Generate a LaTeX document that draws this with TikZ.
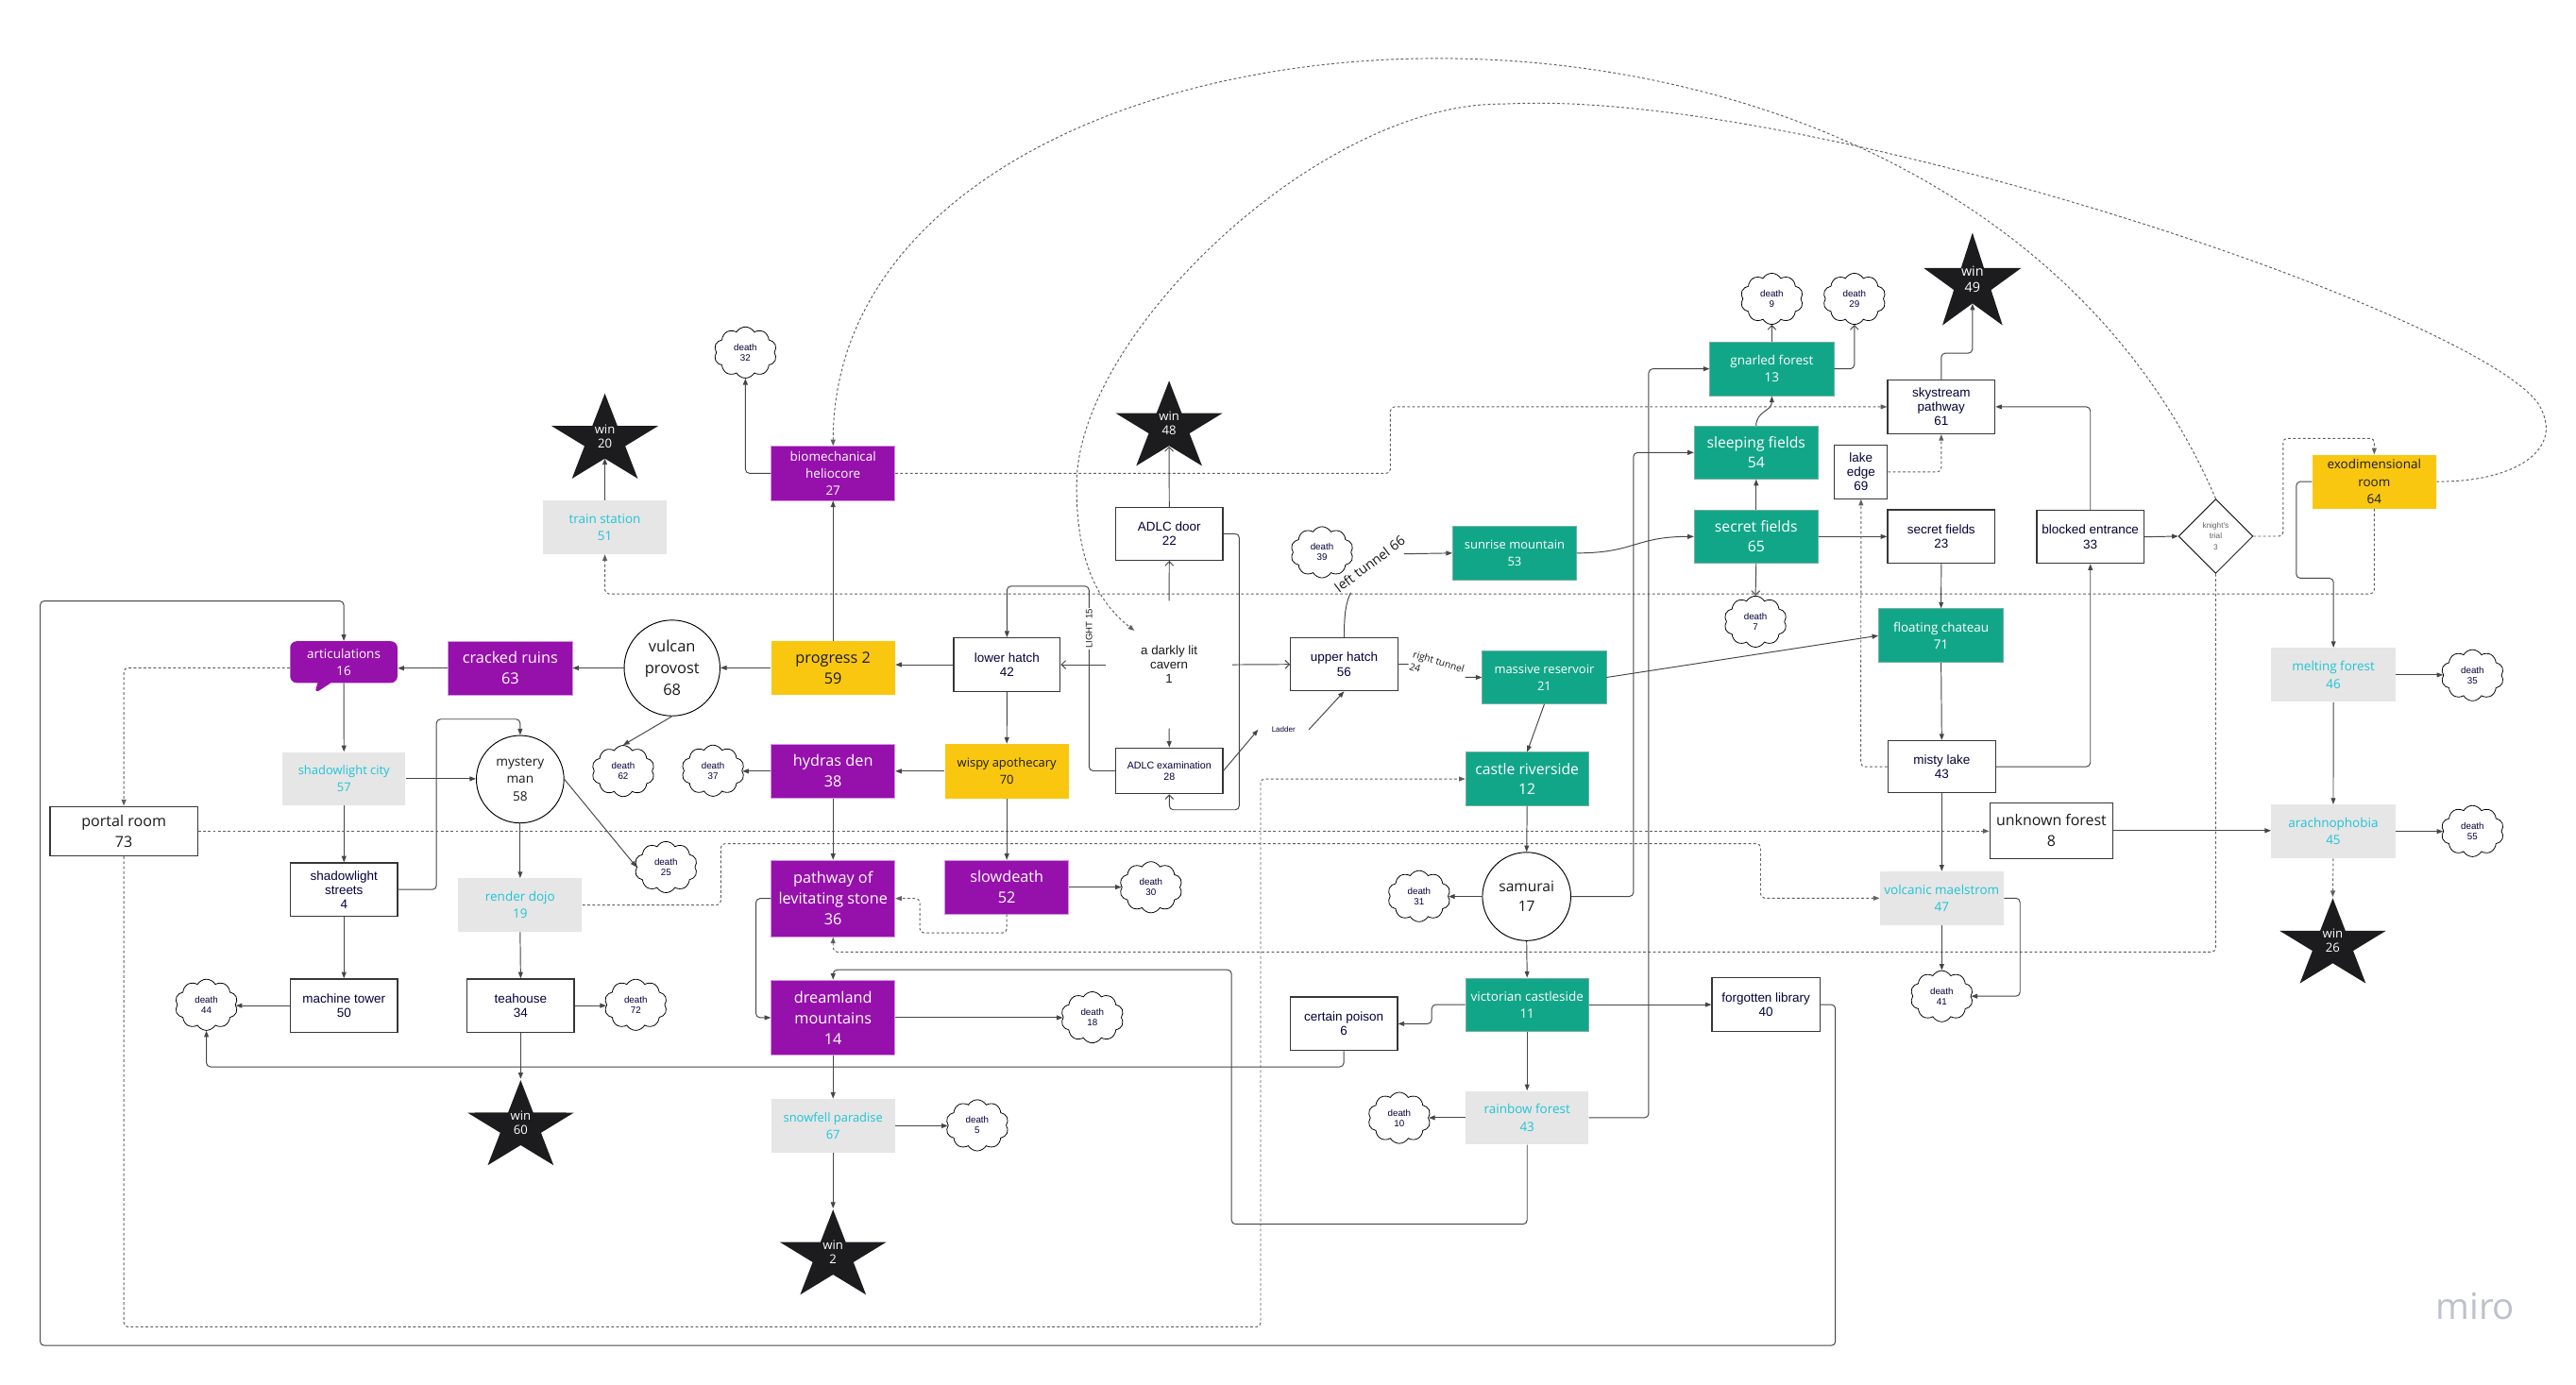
\documentclass[tikz,border=0pt]{standalone}
\usepackage{fontspec}
\setmainfont{Open Sans}
\newfontfamily\osf{Open Sans}
\newfontfamily\arf{Liberation Sans}
\usetikzlibrary{arrows.meta,shapes.geometric,shapes.symbols,shapes.callouts}
\definecolor{mpurple}{RGB}{150,16,172}
\definecolor{mpurpleb}{RGB}{210,150,225}
\definecolor{mgreen}{RGB}{18,166,137}
\definecolor{mgreenb}{RGB}{120,175,160}
\definecolor{myellow}{RGB}{250,199,16}
\definecolor{mgray}{RGB}{230,230,230}
\definecolor{mcyan}{RGB}{30,196,214}
\definecolor{mnavy}{RGB}{5,0,56}
\definecolor{mdark}{RGB}{26,26,26}
\definecolor{mstar}{RGB}{28,28,30}
\definecolor{mline}{RGB}{70,70,70}
\definecolor{mdash}{RGB}{95,95,95}
\definecolor{mborder}{RGB}{55,55,55}
\definecolor{mlogo}{RGB}{190,192,204}
\newcommand{\fntBig}{\osf\fontsize{9.3}{12.6}\selectfont}
\newcommand{\fntMid}{\osf\fontsize{9}{12.2}\selectfont}
\newcommand{\fntSm}{\osf\fontsize{7.7}{10.4}\selectfont}
\newcommand{\fntSmm}{\osf\fontsize{7.4}{10.1}\selectfont}
\newcommand{\fntAr}{\arf\fontsize{7.7}{8.6}\selectfont}
\newcommand{\fntCloud}{\arf\fontsize{5.6}{6.3}\selectfont}
\newcommand{\fntStar}{\osf\fontsize{7.5}{8.6}\selectfont}
\newcommand{\drawstarA}[2]{\fill[mstar, shift={(#1,#2)}, yshift=-2.72pt, xscale=1.19]
  (90:28.5pt) -- (126:10.9pt) -- (162:28.5pt) -- (198:10.9pt) -- (234:28.5pt) -- (270:10.9pt) -- (306:28.5pt) -- (342:10.9pt) -- (18:28.5pt) -- (54:10.9pt) -- cycle;}
\newcommand{\drawstarB}[2]{\fill[mstar, shift={(#1,#2)}, yshift=-2.96pt]
  (90:31pt) -- (126:11.84pt) -- (162:31pt) -- (198:11.84pt) -- (234:31pt) -- (270:11.84pt) -- (306:31pt) -- (342:11.84pt) -- (18:31pt) -- (54:11.84pt) -- cycle;}
\tikzset{
  sz/.style 2 args={minimum width=#1, minimum height=#2},
  base/.style={rectangle, inner sep=0pt, align=center},
  pbox/.style={base, fill=mpurple, draw=mpurpleb, line width=0.4pt, text=white},
  gbox/.style={base, fill=mgreen, draw=mgreenb, line width=0.4pt, text=white},
  ybox/.style={base, fill=myellow, text=mdark},
  graybox/.style={base, fill=mgray, text=mcyan, font=\fntSm},
  wbox/.style={base, fill=white, draw=mborder, line width=0.7pt, text=mnavy, font=\fntAr},
  wboxo/.style={base, fill=white, draw=mborder, line width=0.7pt, text=mdark, font=\osf\fontsize{9.2}{12.5}\selectfont},
  circ/.style={circle, draw=black, line width=0.55pt, fill=white, inner sep=0pt, align=center, text=mdark},
  dcloud/.style={cloud, cloud puffs=10, cloud puff arc=120, aspect=1.25, draw=black, line width=0.45pt, fill=white, minimum width=38pt, minimum height=31pt, inner sep=0pt, align=center, text=mnavy, font=\fntCloud},
  winA/.style={rectangle, inner sep=0pt, minimum width=65.5pt, minimum height=52.6pt, align=center, text=white, font=\fntStar},
  winB/.style={rectangle, inner sep=0pt, minimum width=60pt, minimum height=57.1pt, align=center, text=white, font=\osf\fontsize{8.2}{9.8}\selectfont},
  arr/.style={draw=mline, line width=0.55pt, rounded corners=2.5pt, -{Triangle[length=3.8pt,width=2.8pt]}},
  oarr/.style={draw=mline, line width=0.55pt, rounded corners=2.5pt, -{Straight Barb[length=2.6pt,width=5pt]}},
  darr/.style={arr, draw=mdash, dash pattern=on 1.6pt off 1.4pt},
}
\begin{document}
\begin{tikzpicture}[x=1pt,y=-1pt]
\fill[white] (0,0) rectangle (1560,838.33);
\useasboundingbox (0,0) rectangle (1560,838.33);

% ---------- star shapes (drawn first, texts on top)
\drawstarA{366.3}{264.1}
\drawstarA{708}{256.4}
\drawstarB{1194.5}{169}
\drawstarA{315.3}{680}
\drawstarA{504.5}{758.4}
\drawstarA{1412.7}{569.8}

% ---------- gray boxes
\node[graybox, sz={75pt}{32.5pt}] (ts) at (366.3,319.3) {train station\\51};
\node[graybox, sz={74.6pt}{32.3pt}, font=\fntSmm] (slc) at (208.3,471.7) {shadowlight city\\57};
\node[graybox, sz={75pt}{32.4pt}] (rd) at (315,548.2) {render dojo\\19};
\node[graybox, sz={75pt}{32.6pt}, font=\fntSmm] (sp) at (504.5,681.9) {snowfell paradise\\67};
\node[graybox, sz={74.5pt}{32.4pt}] (rf) at (924.8,677) {rainbow forest\\43};
\node[graybox, sz={75pt}{32.3pt}] (vm) at (1175.9,544) {volcanic maelstrom\\47};
\node[graybox, sz={75.3pt}{32.7pt}] (mf) at (1413.1,408.8) {melting forest\\46};
\node[graybox, sz={75pt}{32.5pt}] (ar) at (1413,503.6) {arachnophobia\\45};

% ---------- purple
\node[rectangle callout, callout absolute pointer={(190.2,420.3)}, callout pointer width=8pt, rounded corners=4pt, fill=mpurple, text=white, minimum width=65pt, minimum height=25.2pt, inner sep=0pt, align=center, font=\fntSm] (art) at (208.2,401) {articulations\\16};
\node[pbox, sz={75pt}{32.6pt}, font=\fntBig] (cr) at (309,404.7) {cracked ruins\\63};
\node[pbox, sz={75pt}{32.8pt}, font=\fntSm] (bh) at (504.5,286.7) {biomechanical\\heliocore\\27};
\node[pbox, sz={75pt}{33pt}, font=\fntBig] (hd) at (504.5,467.1) {hydras den\\38};
\node[pbox, sz={75pt}{46.4pt}, font=\fntBig] (pl) at (504.5,544.2) {pathway of\\levitating stone\\36};
\node[pbox, sz={75pt}{32.5pt}, font=\fntBig] (sd) at (609.7,537.3) {slowdeath\\52};
\node[pbox, sz={75pt}{45.6pt}, font=\fntBig] (dm) at (504.5,616.4) {dreamland\\mountains\\14};

% ---------- yellow
\node[ybox, sz={75pt}{32.4pt}, font=\fntBig] (pr) at (504.5,404.5) {progress 2\\59};
\node[ybox, sz={75pt}{33pt}, font=\fntSmm] (wa) at (609.7,467.1) {wispy apothecary\\70};
\node[ybox, sz={75pt}{32.5pt}, font=\fntSm] (exo) at (1437.8,291.7) {exodimensional\\room\\64};

% ---------- green
\node[gbox, sz={75pt}{32.4pt}, font=\fntSmm] (sm) at (917.2,335) {sunrise mountain\\53};
\node[gbox, sz={75pt}{32.2pt}, font=\fntSmm] (mr) at (935.2,410.3) {massive reservoir\\21};
\node[gbox, sz={74.5pt}{32.4pt}, font=\fntMid] (crv) at (924.8,471.8) {castle riverside\\12};
\node[gbox, sz={74.5pt}{32.3pt}, font=\fntSm] (vc) at (924.8,608.5) {victorian castleside\\11};
\node[gbox, sz={75pt}{32.6pt}, font=\fntSm] (gf) at (1073,223.4) {gnarled forest\\13};
\node[gbox, sz={75pt}{32pt}, font=\fntMid] (sf54) at (1063.5,274.1) {sleeping fields\\54};
\node[gbox, sz={75pt}{32.4pt}, font=\fntMid] (sf65) at (1063.5,325) {secret fields\\65};
\node[gbox, sz={75.6pt}{32.6pt}, font=\fntSm] (fc) at (1175.5,385) {floating chateau\\71};

% ---------- white boxes
\node[wbox, sz={64.5pt}{32.4pt}] (lh) at (609.8,402.6) {lower hatch\\42};
\node[wbox, sz={64.8pt}{32pt}] (door) at (708.1,323.3) {ADLC door\\22};
\node[wbox, sz={64.8pt}{27.7pt}, font=\arf\fontsize{6.1}{7}\selectfont] (exam) at (708.1,466.9) {ADLC examination\\28};
\node[wbox, sz={64.8pt}{32pt}] (uh) at (814,402.4) {upper hatch\\56};
\node[wbox, sz={64.8pt}{32.3pt}] (ss) at (208.3,538.8) {shadowlight\\streets\\4};
\node[wbox, sz={64.8pt}{32.3pt}] (mt) at (208.3,609.1) {machine tower\\50};
\node[wbox, sz={64.8pt}{32.3pt}] (th) at (315.3,609.1) {teahouse\\34};
\node[wbox, sz={65pt}{32.4pt}] (cp) at (813.8,620.1) {certain poison\\6};
\node[wbox, sz={65.2pt}{32.3pt}] (fl) at (1069.4,608.5) {forgotten library\\40};
\node[wbox, sz={65pt}{32.6pt}] (sky) at (1175.6,246.4) {skystream\\pathway\\61};
\node[wbox, sz={32pt}{32.3pt}] (le) at (1127,285.9) {lake\\edge\\69};
\node[wbox, sz={65pt}{32.4pt}] (sf23) at (1175.6,325) {secret fields\\23};
\node[wbox, sz={65pt}{32pt}] (be) at (1265.9,325.2) {blocked entrance\\33};
\node[wbox, sz={65.2pt}{31.5pt}] (ml) at (1175.9,464.4) {misty lake\\43};
\node[wboxo, sz={89.3pt}{29.9pt}] (portal) at (75,503.4) {portal room\\73};
\node[wboxo, sz={74.6pt}{33.9pt}, font=\osf\fontsize{9.1}{12.4}\selectfont] (uf) at (1242.3,503.1) {unknown forest\\8};

% ---------- circles, text, diamond
\node[circ, minimum size=58pt, font=\osf\fontsize{9.4}{13}\selectfont] (vp) at (407,404.6) {vulcan\\provost\\68};
\node[circ, minimum size=53pt, font=\osf\fontsize{7.8}{10.5}\selectfont] (mm) at (315,472) {mystery\\man\\58};
\node[circ, minimum size=53.5pt, font=\osf\fontsize{8.9}{12.2}\selectfont] (sam) at (924.5,543) {samurai\\17};
\node[rectangle, inner sep=0pt, minimum width=76pt, minimum height=77pt, align=center, text=mdark, font=\arf\fontsize{7.6}{8.5}\selectfont] (cav) at (708,402.6) {a darkly lit\\cavern\\1};
\node[diamond, draw=black, line width=0.5pt, fill=white, minimum width=45pt, minimum height=45pt, inner sep=0pt, align=center, text=mdash, font=\arf\fontsize{4.7}{6.5}\selectfont] (kt) at (1341.8,324.8) {knight's\\trial\\3};

% ---------- star texts
\node[winA] (w20) at (366.3,264.1) {win\\20};
\node[winA] (w48) at (708,256.4) {win\\48};
\node[winB] (w49) at (1194.5,169) {win\\49};
\node[winA] (w60) at (315.3,680) {win\\60};
\node[winA] (w2) at (504.5,758.4) {win\\2};
\node[winA] (w26) at (1412.7,569.8) {win\\26};

% ---------- clouds
\node[dcloud] (d32) at (451.4,213.5) {death\\32};
\node[dcloud] (d62) at (377.4,467) {death\\62};
\node[dcloud] (d37) at (431.8,466.8) {death\\37};
\node[dcloud] (d25) at (403.3,525.2) {death\\25};
\node[dcloud] (d44) at (125,608.6) {death\\44};
\node[dcloud] (d72) at (385,608.6) {death\\72};
\node[dcloud] (d30) at (697,537.4) {death\\30};
\node[dcloud] (d18) at (661.5,616.2) {death\\18};
\node[dcloud] (d5) at (591.8,681.6) {death\\5};
\node[dcloud] (d39) at (800.6,334.5) {death\\39};
\node[dcloud] (d31) at (859.4,542.8) {death\\31};
\node[dcloud] (d10) at (847.4,677.1) {death\\10};
\node[dcloud] (d9) at (1073,181) {death\\9};
\node[dcloud] (d29) at (1123,181) {death\\29};
\node[dcloud] (d7) at (1063.1,376.5) {death\\7};
\node[dcloud] (d41) at (1175.9,603.4) {death\\41};
\node[dcloud] (d35) at (1497.3,409) {death\\35};
\node[dcloud] (d55) at (1497.3,503.4) {death\\55};

\node[font=\osf\fontsize{22}{24}\selectfont, text=mlogo] (logo) at (1499,791) {miro};

% ---------- connectors
\draw[arr] (ts.north) -- ([yshift=-13.5pt]w20.center);
\draw[darr] (exo.south) -- (1437.8,359.7) -- (366.3,359.7) -- (ts.south);
\draw[arr] (cr.west) -- (cr.west -| art.east);
\draw[arr] (vp.west) -- (vp.west -| cr.east);
\draw[arr] (pr.west) -- (pr.west -| vp.east);
\draw[arr] (lh.west) -- (lh.west -| pr.east);
\draw[arr] (pr.north) -- (bh.south);
\draw[arr] (bh.west) -- (451.4,286.7) -- (d32.south);
\draw[darr] (kt.north) .. controls (1180,-75) and (505,-20) .. (bh.north);
\draw[arr] (art.south) -- (slc.north);
\draw[arr] (fl.east) -- (1111.5,608.5) -- (1111.5,815) -- (24.3,815) -- (24.3,364) -- (208.2,364) -- (art.north);
\draw[darr] ([yshift=-3.5pt]art.west) -- (75,404.5) -- (portal.north);
\draw[darr] (portal.east) -- (portal.east -| uf.west);
\draw[darr] (portal.south) -- (75,803.7) -- (763.4,803.7) -- (763.4,471.8) -- (crv.west);
\draw[arr] (slc.east) -- (slc.east -| mm.west);
\draw[arr] (slc.south) -- (ss.north);
\draw[arr] (ss.east) -- (264.3,538.8) -- (264.3,435.6) -- (315,435.6) -- (mm.north);
\draw[arr] (ss.south) -- (mt.north);
\draw[arr] (mt.west) -- (mt.west -| d44.east);
\draw[arr] (mm.south) -- (rd.north);
\draw[arr] (mm.east) -- (d25.west);
\draw[arr] (vp.south) -- (d62.north);
\draw[arr] (rd.south) -- (th.north);
\draw[arr] (th.east) -- (th.east -| d72.west);
\draw[arr] (th.south) -- (w60.north);
\draw[arr] (cp.south) -- (813.8,646.2) -- (125,646.2) -- (d44.south);
\draw[arr] (hd.west) -- (hd.west -| d37.east);
\draw[arr] (wa.west) -- (hd.east);
\draw[arr] (lh.south) -- (wa.north);
\draw[arr] (hd.south) -- (pl.north);
\draw[arr] (wa.south) -- (sd.north);
\draw[arr] (sd.east) -- (sd.east -| d30.west);
\draw[darr] (sd.south) -- (609.7,565) -- (557,565) -- (557,544.2) -- (pl.east);
\draw[darr] (kt.south) -- (1341.8,576.6) -- (504.5,576.6) -- (pl.south);
\draw[arr] (pl.west) -- (457.8,544.2) -- (457.8,616.4) -- (dm.west);
\draw[arr] (dm.east) -- (dm.east -| d18.west);
\draw[arr] (dm.south) -- (sp.north);
\draw[arr] (sp.east) -- (sp.east -| d5.west);
\draw[arr] (sp.south) -- (w2.north);
\draw[arr] (rf.south) -- (924.8,741.5) -- (745.8,741.5) -- (745.8,587.4) -- (504.5,587.4) -- (dm.north);
\draw[arr] (rf.east) -- (998.4,677) -- (998.4,223.4) -- (gf.west);
\draw[arr] (rf.west) -- (rf.west -| d10.east);
\draw[arr] (sam.east) -- (989.2,543) -- (989.2,274.1) -- (sf54.west);
\draw[arr] (sam.west) -- (sam.west -| d31.east);
\draw[arr] (crv.south) -- (sam.north);
\draw[arr] (mr.south) -- (crv.north);
\draw[arr] (uh.east) -- (853,402.4) (887.3,410.2) -- (mr.west);
\draw[arr] (uh.north) .. controls (814,372) and (815,365) .. (818,359) (850.2,335.5) -- (sm.west);
\draw[arr] (mr.east) -- (fc.west);
\draw[arr] (sm.east) .. controls (990,335) and (990,325) .. (sf65.west);
\draw[arr] (sf65.north) -- (sf54.south);
\draw[arr] (sf54.north) .. controls (1063.5,249) and (1073,249) .. (gf.south);
\draw[oarr] (gf.north) -- (d9.south);
\draw[oarr] (gf.east) -- (1123,223.4) -- (d29.south);
\draw[oarr] (sf65.south) -- (d7.north);
\draw[arr] (sf65.east) -- (sf23.west);
\draw[arr] (sf23.south) -- (fc.north);
\draw[arr] (fc.south) -- (ml.north);
\draw[arr] (ml.east) -- (1265.9,464.4) -- (be.south);
\draw[darr] (ml.west) -- (1126.9,464.4) -- (le.south);
\draw[darr] (le.east) -- (1175.6,285.9) -- (sky.south);
\draw[arr] (be.north) -- (1265.9,246.4) -- (sky.east);
\draw[arr] (sky.north) -- (1175.6,213.9) -- (1194.5,213.9) -- ([yshift=-15pt]w49.center);
\draw[darr] (bh.east) -- (842,286.7) -- (842,246.4) -- (sky.west);
\draw[arr] (be.east) -- (kt.west);
\draw[darr] (kt.east) -- (1382.6,324.8) -- (1382.6,265.5) -- (1437.8,265.5) -- (exo.north);
\draw[darr] (exo.east) .. controls (1520,292) and (1548,275) .. (1540,250) .. controls (1515,195) and (1100,54) .. (911,63) .. controls (800,63) and (655,200) .. (652,293) .. controls (652,340) and (665,365) .. ([xshift=-21pt,yshift=20.6pt]cav.center);
\draw[arr] (exo.west) -- (1390.6,291.7) -- (1390.6,350.2) -- (1413.1,350.2) -- (mf.north);
\draw[arr] (mf.east) -- (mf.east -| d35.west);
\draw[arr] (mf.south) -- (ar.north);
\draw[arr] (ar.east) -- (ar.east -| d55.west);
\draw[darr] (ar.south) -- (w26.north);
\draw[arr] (uf.east) -- (uf.east -| ar.west);
\draw[arr] (ml.south) -- (vm.north);
\draw[arr] (vm.south) -- (d41.north);
\draw[arr] (vm.east) -- (1223.3,544) -- (1223.3,603.4) -- (d41.east);
\draw[darr] (rd.east) -- (436.5,548.2) -- (436.5,511) -- (1066.2,511) -- (1066.2,544) -- (vm.west);
\draw[arr] (vc.west) -- (867,608.5) -- (867,620.1) -- (cp.east);
\draw[arr] (vc.east) -- (fl.west);
\draw[arr] (vc.south) -- (rf.north);
\draw[arr] (sam.south) -- (vc.north);
\draw[oarr] (cav.west) -- (lh.east);
\draw[oarr] (cav.north) -- (door.south);
\draw[oarr] (cav.east) -- (uh.west);
\draw[arr] (cav.south) -- (exam.north);
\draw[oarr] (door.north) -- ([yshift=-14pt]w48.center);
\draw[oarr] (door.east) -- (750.5,323.3) -- (750.5,490.5) -- (708.1,490.5) -- (exam.south);
\draw[arr] (exam.west) -- (659.5,466.9) -- (659.5,355) -- (609.8,355) -- (lh.north);

% ---------- connector labels
\node[rotate=90, fill=white, inner sep=0.6pt, font=\arf\fontsize{5.5}{6}\selectfont, text=mdark] (l15) at (659.5,380.8) {LIGHT 15};
\node[font=\arf\fontsize{4.6}{5}\selectfont, text=mnavy, inner xsep=8pt, inner ysep=1pt] (lad) at (777.3,441.9) {Ladder};
\draw[arr] (exam.east) -- (lad.west);
\draw[arr] (lad.east) -- (uh.south);
\node[rotate=37, inner sep=0pt, font=\osf\fontsize{8.2}{9}\selectfont, text=mdark] (ltl) at (829.5,341.5) {left tunnel 66};
\node[rotate=-17, anchor=north west, align=left, inner sep=0pt, font=\osf\fontsize{5.9}{7.8}\selectfont, text=mdark] (rtl) at (856.5,393.5) {right tunnel\\24};
\end{tikzpicture}
\end{document}
